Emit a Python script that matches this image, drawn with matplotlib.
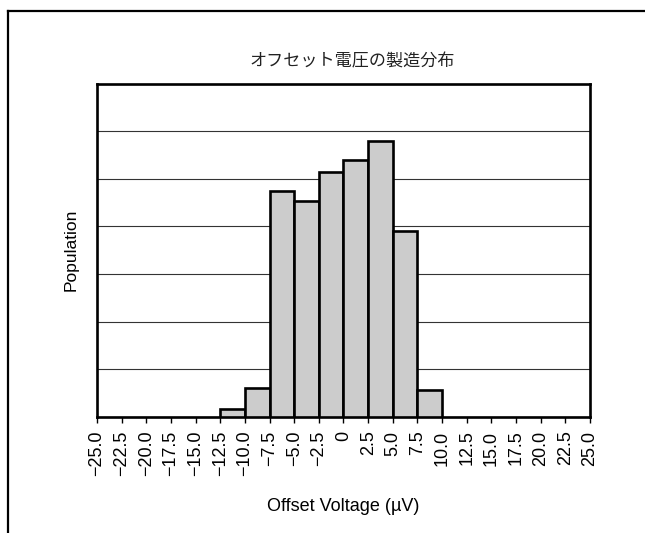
import matplotlib
matplotlib.use("Agg")
import matplotlib.pyplot as plt
from matplotlib.lines import Line2D

plt.rcParams['font.family'] = ['Liberation Sans', 'DejaVu Sans']

# データ (棒の左端, 高さ)
bin_left = [-12.5, -10.0, -7.5, -5.0, -2.5, 0.0, 2.5, 5.0, 7.5]
heights = [0.17, 0.61, 4.75, 4.54, 5.15, 5.39, 5.79, 3.90, 0.56]
bin_width = 2.5

tick_pos = [-25.0 + 2.5 * i for i in range(21)]
tick_labels = ['\u221225.0', '\u221222.5', '\u221220.0', '\u221217.5', '\u221215.0',
               '\u221212.5', '\u221210.0', '\u22127.5', '\u22125.0', '\u22122.5', '0',
               '2.5', '5.0', '7.5', '10.0', '12.5', '15.0', '17.5', '20.0', '22.5', '25.0']

title = 'オフセット電圧の製造分布'
xlabel = 'Offset Voltage (\u00b5V)'
ylabel = 'Population'

fig = plt.figure(figsize=(6.45, 5.33), dpi=100)
ax = fig.add_axes([0.1504, 0.2182, 0.7643, 0.6251])

ax.bar(bin_left, heights, width=bin_width, align='edge',
       color='#cccccc', edgecolor='black', linewidth=1.9, zorder=3)

ax.set_xlim(-25, 25)
ax.set_ylim(0, 7)
ax.set_yticks(range(8))
ax.yaxis.grid(True, color='#333333', linewidth=0.8)
ax.set_axisbelow(True)
ax.tick_params(axis='y', left=False, labelleft=False)

ax.set_xticks(tick_pos)
ax.set_xticklabels(tick_labels, rotation=90, fontsize=13)
ax.tick_params(axis='x', direction='out', length=4, width=1, pad=6)

for s in ax.spines.values():
    s.set_linewidth(1.9)

ax.set_xlabel(xlabel, fontsize=13, labelpad=16)
ax.set_ylabel(ylabel, fontsize=12.5, labelpad=13)

fig.text(0.5465, 0.884, title, ha='center', va='center', fontsize=12.3,
         family=['Noto Sans CJK JP', 'DejaVu Sans'], color='#222222')

# 外枠 (上と左)
fig.add_artist(Line2D([8 / 645, 1.0], [1 - 11 / 533, 1 - 11 / 533],
                      transform=fig.transFigure, color='black', linewidth=1.6))
fig.add_artist(Line2D([8 / 645, 8 / 645], [0.0, 1 - 11 / 533],
                      transform=fig.transFigure, color='black', linewidth=1.6))

fig.savefig('out.png', dpi=100)
